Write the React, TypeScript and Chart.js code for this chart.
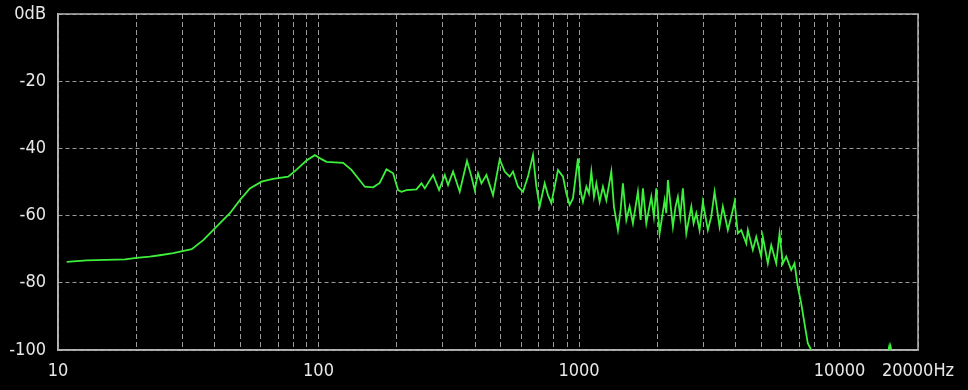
import React, { useEffect, useRef } from "react";
import { Chart, registerables } from "chart.js";

Chart.register(...registerables);

// Frequency response (Hz, dB)
const freqs = [
  10.8, 12.9, 18.1, 20.0, 22.5, 24.6, 27.7, 32.6, 36.1, 40.6,
  45.7, 49.9, 54.5, 60.4, 66.9, 76.5, 82.4, 89.9, 96.8, 102.7,
  107.3, 124.3, 133.8, 150.5, 162.0, 171.8, 182.3, 193.3, 202.0, 208.2,
  217.6, 237.6, 248.4, 255.7, 275.3, 290.2, 305.2, 314.2, 328.4, 348.3,
  371.5, 386.3, 397.7, 409.5, 422.0, 441.0, 467.5, 496.0, 518.3, 541.7,
  557.8, 582.9, 609.3, 636.8, 665.6, 685.8, 706.1, 738.0, 759.9, 783.0,
  830.1, 867.6, 894.0, 920.4, 947.6,
  990.3, 1011.5, 1035, 1066.7, 1091.4, 1114.8, 1140.7, 1165.1, 1199.6, 1235.0,
  1272.7, 1330.1, 1361.0, 1410.0, 1444.0, 1473.6, 1518.5, 1563.4, 1609.7, 1682.3,
  1723.0, 1758.3, 1811.9, 1893.7, 1937.7, 1979.2, 2038, 2130, 2162, 2193,
  2292, 2347, 2395, 2446, 2503, 2580, 2697, 2752, 2818, 2901,
  2987, 3122, 3217, 3313, 3462, 3564, 3725, 3839, 3953, 4069,
  4193, 4383, 4445, 4646, 4787, 5003, 5075, 5304, 5466, 5713,
  5882, 6056, 6241, 6522, 6714, 6913, 7124, 7334, 7551, 7782,
];
const levels = [
  -73.8, -73.3, -73.0, -72.6, -72.2, -71.8, -71.2, -70.0, -67.3, -63.3,
  -59.3, -55.4, -51.9, -49.9, -49.1, -48.4, -46.3, -43.6, -42.0, -43.2,
  -44.0, -44.3, -46.4, -51.4, -51.6, -50.3, -46.2, -47.4, -52.4, -52.9,
  -52.4, -52.2, -50.4, -51.9, -47.9, -52.4, -47.9, -50.9, -46.9, -52.9,
  -43.7, -48.4, -52.4, -47.4, -50.4, -47.9, -53.9, -43.3, -46.9, -48.4,
  -46.9, -51.4, -52.9, -48.4, -42.0, -51.4, -57.3, -50.4, -53.9, -56.3,
  -46.4, -48.4, -53.4, -56.8, -54.9,
  -43.0, -52.4, -55.9, -51.4, -53.4, -46.9, -54.4, -50.4, -55.9, -51.4,
  -55.4, -46.9, -57.3, -64.3, -58.3, -50.4, -61.3, -57.3, -62.3, -52.9,
  -61.3, -51.9, -62.3, -54.4, -60.3, -51.9, -65.3, -55.4, -59.3, -49.4,
  -63.3, -57.3, -54.4, -60.3, -51.9, -65.3, -57.3, -62.3, -59.3, -64.3,
  -55.9, -64.3, -60.3, -52.9, -63.3, -57.3, -64.3, -60.3, -55.9, -65.3,
  -64.3, -68.3, -64.3, -70.2, -66.3, -72.2, -66.3, -74.2, -68.8, -74.2,
  -65.3, -74.2, -72.2, -76.2, -74.2, -81.2, -86.1, -92.1, -98.0, -100,
];
// small blip near the bottom edge around 15.5 kHz
const blipFreqs = [15400, 15500, 15600, 15700, 15800];
const blipLevels = [-100, -98.8, -100, -98.8, -100];

const xTickValues = [
  10, 20, 30, 40, 50, 60, 70, 80, 90,
  100, 200, 300, 400, 500, 600, 700, 800, 900,
  1000, 2000, 3000, 4000, 5000, 6000, 7000, 8000, 9000,
  10000, 20000,
];
const xTickLabels: Record<number, string> = {
  10: "10",
  100: "100",
  1000: "1000",
  10000: "10000",
  20000: "20000Hz",
};
const yTickValues = [0, -20, -40, -60, -80, -100];
const yTickLabels = ["0dB", "-20", "-40", "-60", "-80", "-100"];

const FONT = "'Liberation Sans Narrow', 'DejaVu Sans Condensed', 'Liberation Sans', sans-serif";

const boxPlugin = {
  id: "plotBox",
  beforeDatasetsDraw(chart: any) {
    const { ctx, chartArea } = chart;
    const { left, top, right, bottom } = chartArea;
    ctx.save();
    ctx.strokeStyle = "#b4b4b4";
    ctx.lineWidth = 1.5;
    ctx.strokeRect(left, top, right - left, bottom - top);
    ctx.restore();
  },
};

export default function App() {
  const canvasRef = useRef<HTMLCanvasElement | null>(null);

  useEffect(() => {
    const canvas = canvasRef.current;
    if (!canvas) return;
    const chart = new Chart(canvas, {
      type: "line",
      data: {
        datasets: [
          {
            data: freqs.map((f, i) => ({ x: f, y: levels[i] })),
            borderColor: "#3cf03c",
            borderWidth: 1.8,
            pointRadius: 0,
            tension: 0,
            fill: false,
          },
          {
            data: blipFreqs.map((f, i) => ({ x: f, y: blipLevels[i] })),
            borderColor: "#3cf03c",
            borderWidth: 1.5,
            pointRadius: 0,
            tension: 0,
            fill: false,
          },
        ],
      },
      options: {
        animation: false,
        responsive: true,
        maintainAspectRatio: false,
        layout: { padding: { top: 14, right: 50, left: 0, bottom: 0 } },
        plugins: { legend: { display: false }, tooltip: { enabled: false } },
        scales: {
          x: {
            type: "logarithmic",
            min: 10,
            max: 20000,
            afterBuildTicks: (s: any) => {
              s.ticks = xTickValues.map((v) => ({ value: v }));
            },
            afterFit: (s: any) => {
              s.height = 40;
            },
            ticks: {
              autoSkip: false,
              maxRotation: 0,
              minRotation: 0,
              padding: 11,
              color: "#e8e8e8",
              font: { family: FONT, size: 18 },
              callback: (v: any) => xTickLabels[Number(v)] ?? "",
            },
            grid: { color: "#9a9a9a", lineWidth: 1, drawTicks: false },
            border: { display: true, color: "#b4b4b4", width: 1.5, dash: [5, 3] },
          },
          y: {
            type: "linear",
            min: -100,
            max: 0,
            afterBuildTicks: (s: any) => {
              s.ticks = yTickValues.map((v) => ({ value: v }));
            },
            afterFit: (s: any) => {
              s.width = 58;
              s.paddingTop = 0;
              s.paddingBottom = 0;
            },
            ticks: {
              padding: 12,
              color: "#e8e8e8",
              font: { family: FONT, size: 18 },
              callback: (v: any) => {
                const i = yTickValues.indexOf(Number(v));
                return i >= 0 ? yTickLabels[i] : "";
              },
            },
            grid: { color: "#9a9a9a", lineWidth: 1, drawTicks: false },
            border: { display: true, color: "#b4b4b4", width: 1.5, dash: [4, 3] },
          },
        },
      },
      plugins: [boxPlugin],
    });
    return () => chart.destroy();
  }, []);

  return (
    <div
      style={{
        position: "fixed",
        left: 0,
        top: 0,
        width: 968,
        height: 390,
        background: "#000",
      }}
    >
      <canvas ref={canvasRef} />
    </div>
  );
}
